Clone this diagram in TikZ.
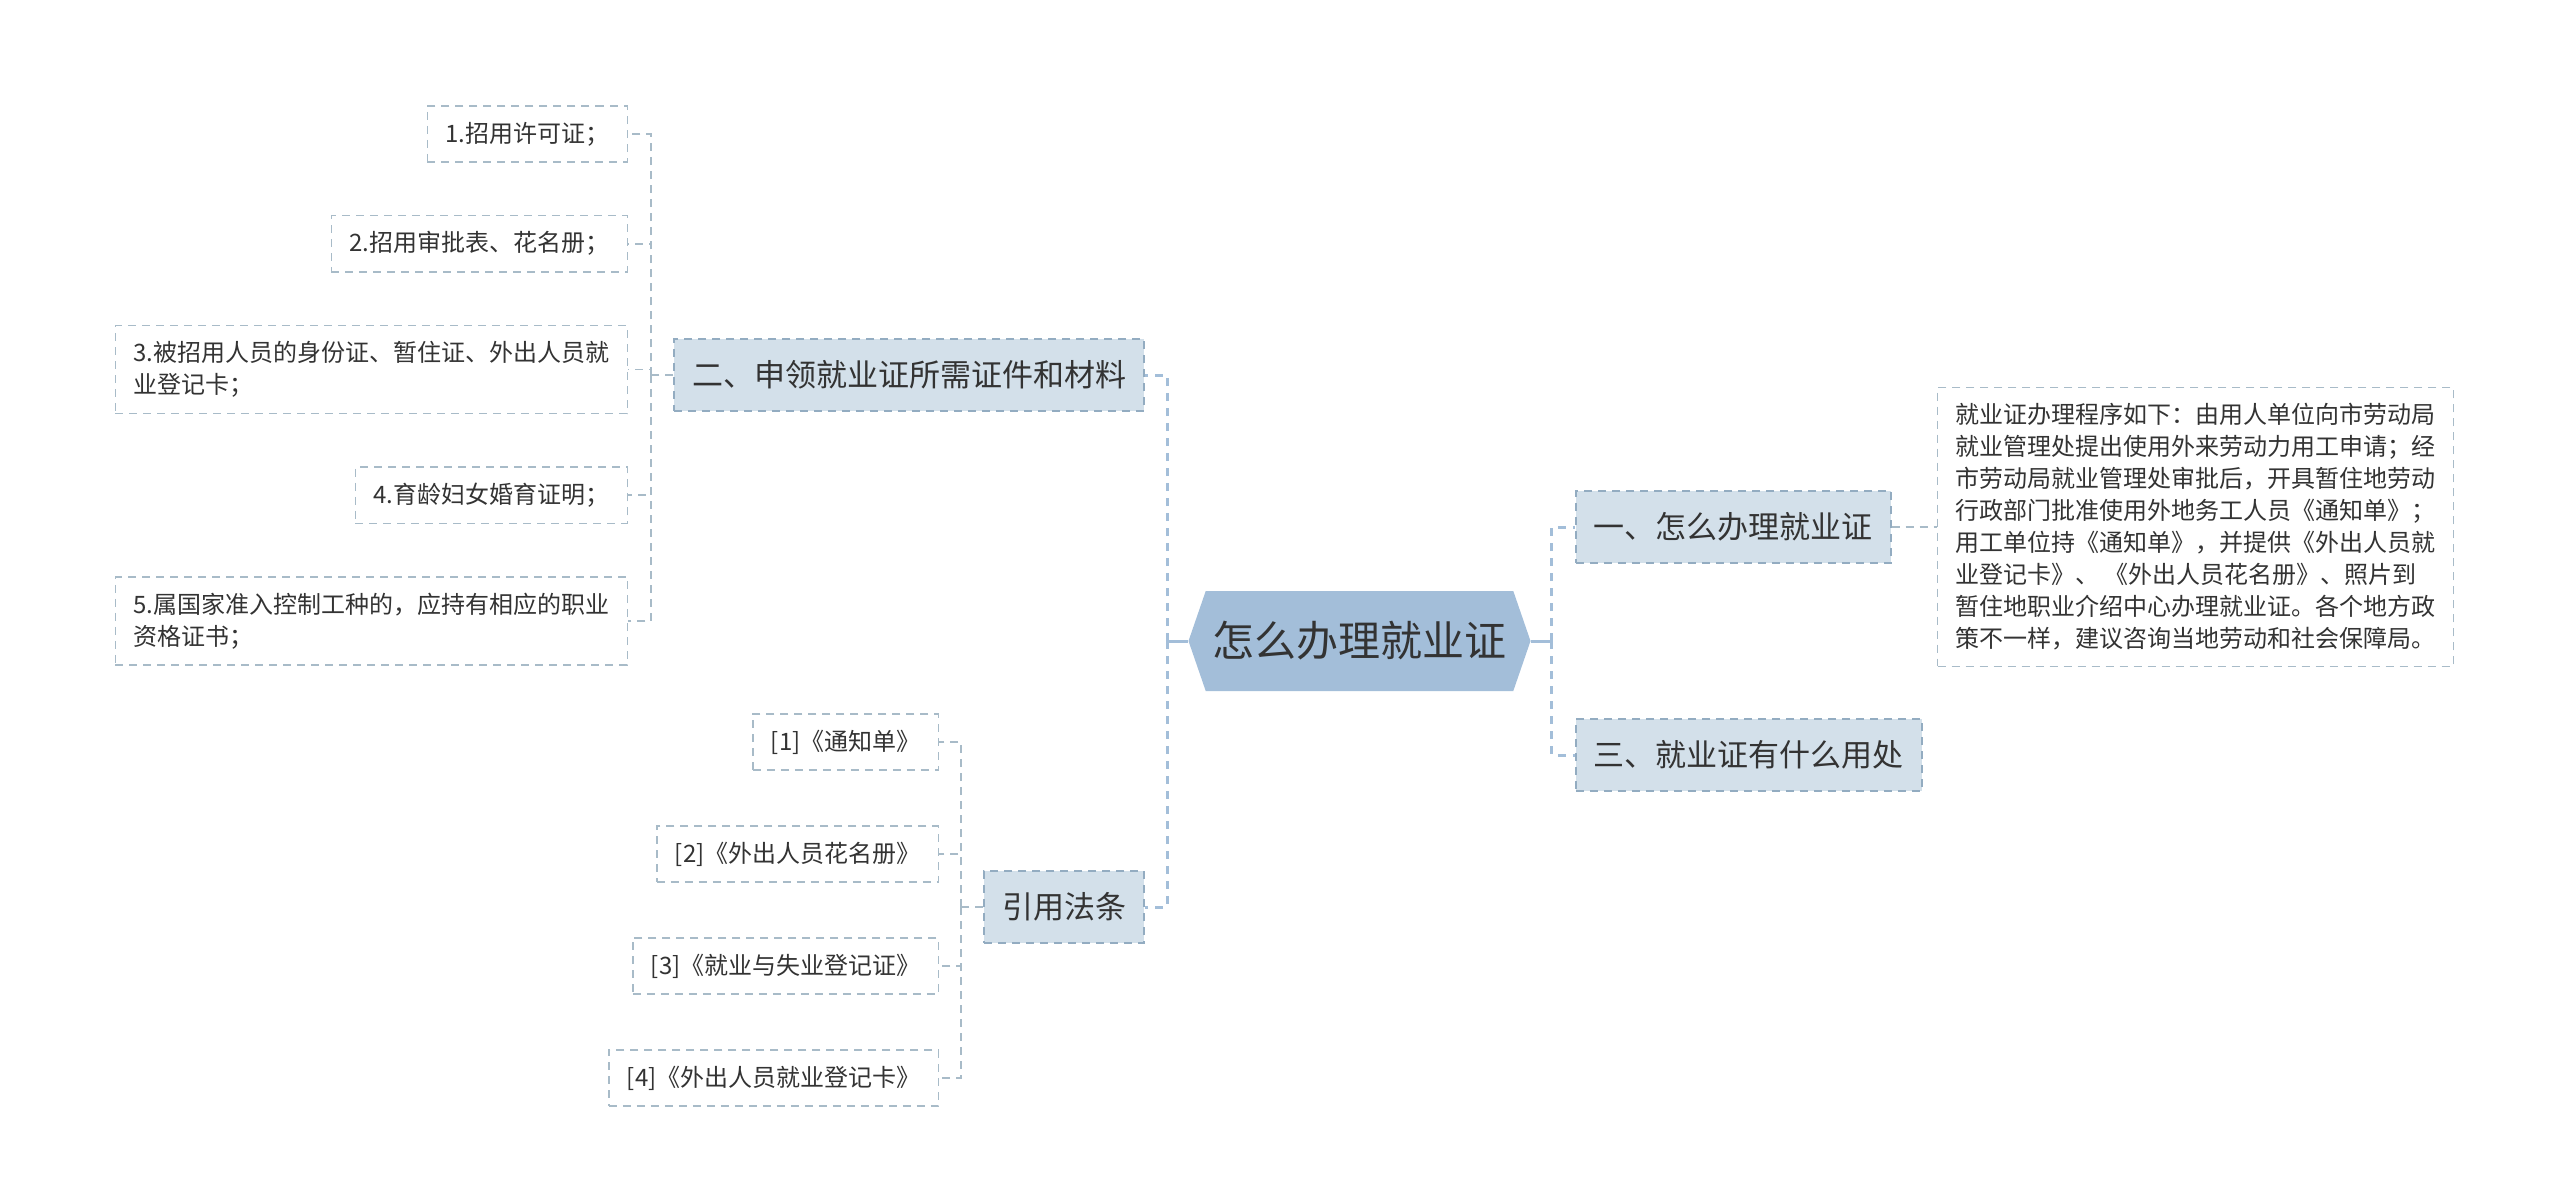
\documentclass[tikz,border=0pt]{standalone}
\usepackage{fontspec}
\setmainfont{Noto Sans CJK SC}
\usepackage{tikz}
\usetikzlibrary{positioning,shapes.symbols}
\definecolor{rootblue}{HTML}{A3BED9}
\definecolor{topicfill}{HTML}{D3E0EA}
\definecolor{topicline}{HTML}{93ACC1}
\definecolor{leafline}{HTML}{A8BBC8}
\definecolor{inkgray}{HTML}{333333}

\begin{document}
\begin{tikzpicture}[
  rootbox/.style={shape=signal, signal to=west and east, signal pointer angle=142,
    fill=rootblue, text=inkgray, font=\fontsize{21pt}{25pt}\selectfont,
    minimum width=171pt, minimum height=50pt, inner sep=0pt},
  topic/.style={draw=topicline, dash pattern=on 4pt off 3pt, fill=topicfill,
    line width=0.9pt, text=inkgray, font=\fontsize{15.5pt}{18pt}\selectfont,
    inner xsep=9pt, inner ysep=2pt, minimum height=36pt},
  leaf/.style={draw=leafline, dash pattern=on 4pt off 3pt, fill=white,
    line width=0.8pt, text=inkgray, align=left, font=\fontsize{12pt}{16pt}\selectfont,
    inner xsep=9pt, inner ysep=8pt, minimum height=28pt},
  trunk/.style={draw=rootblue, line width=1.5pt},
  branch/.style={trunk, dash pattern=on 4pt off 3.5pt},
  twig/.style={draw=leafline, line width=0.9pt, dash pattern=on 4pt off 3pt},
]
\useasboundingbox (0,0) rectangle (1280pt,-602pt);

\node[rootbox] (root) at (679.75pt,-320.5pt) {怎么办理就业证};

% first level
\node[topic, left=21.5pt of root.west, yshift=133pt] (need) {二、申领就业证所需证件和材料};
\node[topic, left=21.5pt of root.west, yshift=-133pt] (law) {引用法条};
\node[topic, right=22pt of root.east, yshift=57pt] (how) {一、怎么办理就业证};
\node[topic, right=22pt of root.east, yshift=-57pt] (use) {三、就业证有什么用处};

% how to apply
\node[leaf, right=22.5pt of how] (steps) {就业证办理程序如下：由用人单位向市劳动局\\
  就业管理处提出使用外来劳动力用工申请；经\\
  市劳动局就业管理处审批后，开具暂住地劳动\\
  行政部门批准使用外地务工人员《通知单》；\\
  用工单位持《通知单》，并提供《外出人员就\\
  业登记卡》、 《外出人员花名册》、照片到\\
  暂住地职业介绍中心办理就业证。各个地方政\\
  策不一样，建议咨询当地劳动和社会保障局。};

% materials
\node[leaf, left=22.5pt of need.west, yshift=120.5pt] (m1) {1.招用许可证；};
\node[leaf, below=26pt of m1.south east, anchor=north east] (m2) {2.招用审批表、花名册；};
\node[leaf, below=26pt of m2.south east, anchor=north east] (m3) {3.被招用人员的身份证、暂住证、外出人员就\\业登记卡；};
\node[leaf, below=26pt of m3.south east, anchor=north east] (m4) {4.育龄妇女婚育证明；};
\node[leaf, below=26pt of m4.south east, anchor=north east] (m5) {5.属国家准入控制工种的，应持有相应的职业\\资格证书；};

% references
\node[leaf, left=22pt of law.west, yshift=82.5pt] (r1) {[1]《通知单》};
\node[leaf, below=27pt of r1.south east, anchor=north east] (r2) {[2]《外出人员花名册》};
\node[leaf, below=27pt of r2.south east, anchor=north east] (r3) {[3]《就业与失业登记证》};
\node[leaf, below=27pt of r3.south east, anchor=north east] (r4) {[4]《外出人员就业登记卡》};

% connectors
\coordinate (lj) at ([xshift=-10.5pt]root.west);
\coordinate (rj) at ([xshift=10.5pt]root.east);
\coordinate (mj) at ([xshift=-11pt]need.west);
\coordinate (rk) at ([xshift=-11pt]law.west);
\draw[trunk] (root.west) -- (lj);
\draw[trunk] (root.east) -- (rj);
\draw[branch] (lj) |- (need.east);
\draw[branch] (lj) |- (law.east);
\draw[branch] (rj) |- (how.west);
\draw[branch] (rj) |- (use.west);
\draw[twig] (how) -- (steps);
\draw[twig] (need.west) -- (mj);
\foreach \i in {1,...,5}
  \draw[twig] (mj) |- (m\i.east);
\draw[twig] (law.west) -- (rk);
\foreach \i in {1,...,4}
  \draw[twig] (rk) |- (r\i.east);
\end{tikzpicture}
\end{document}
